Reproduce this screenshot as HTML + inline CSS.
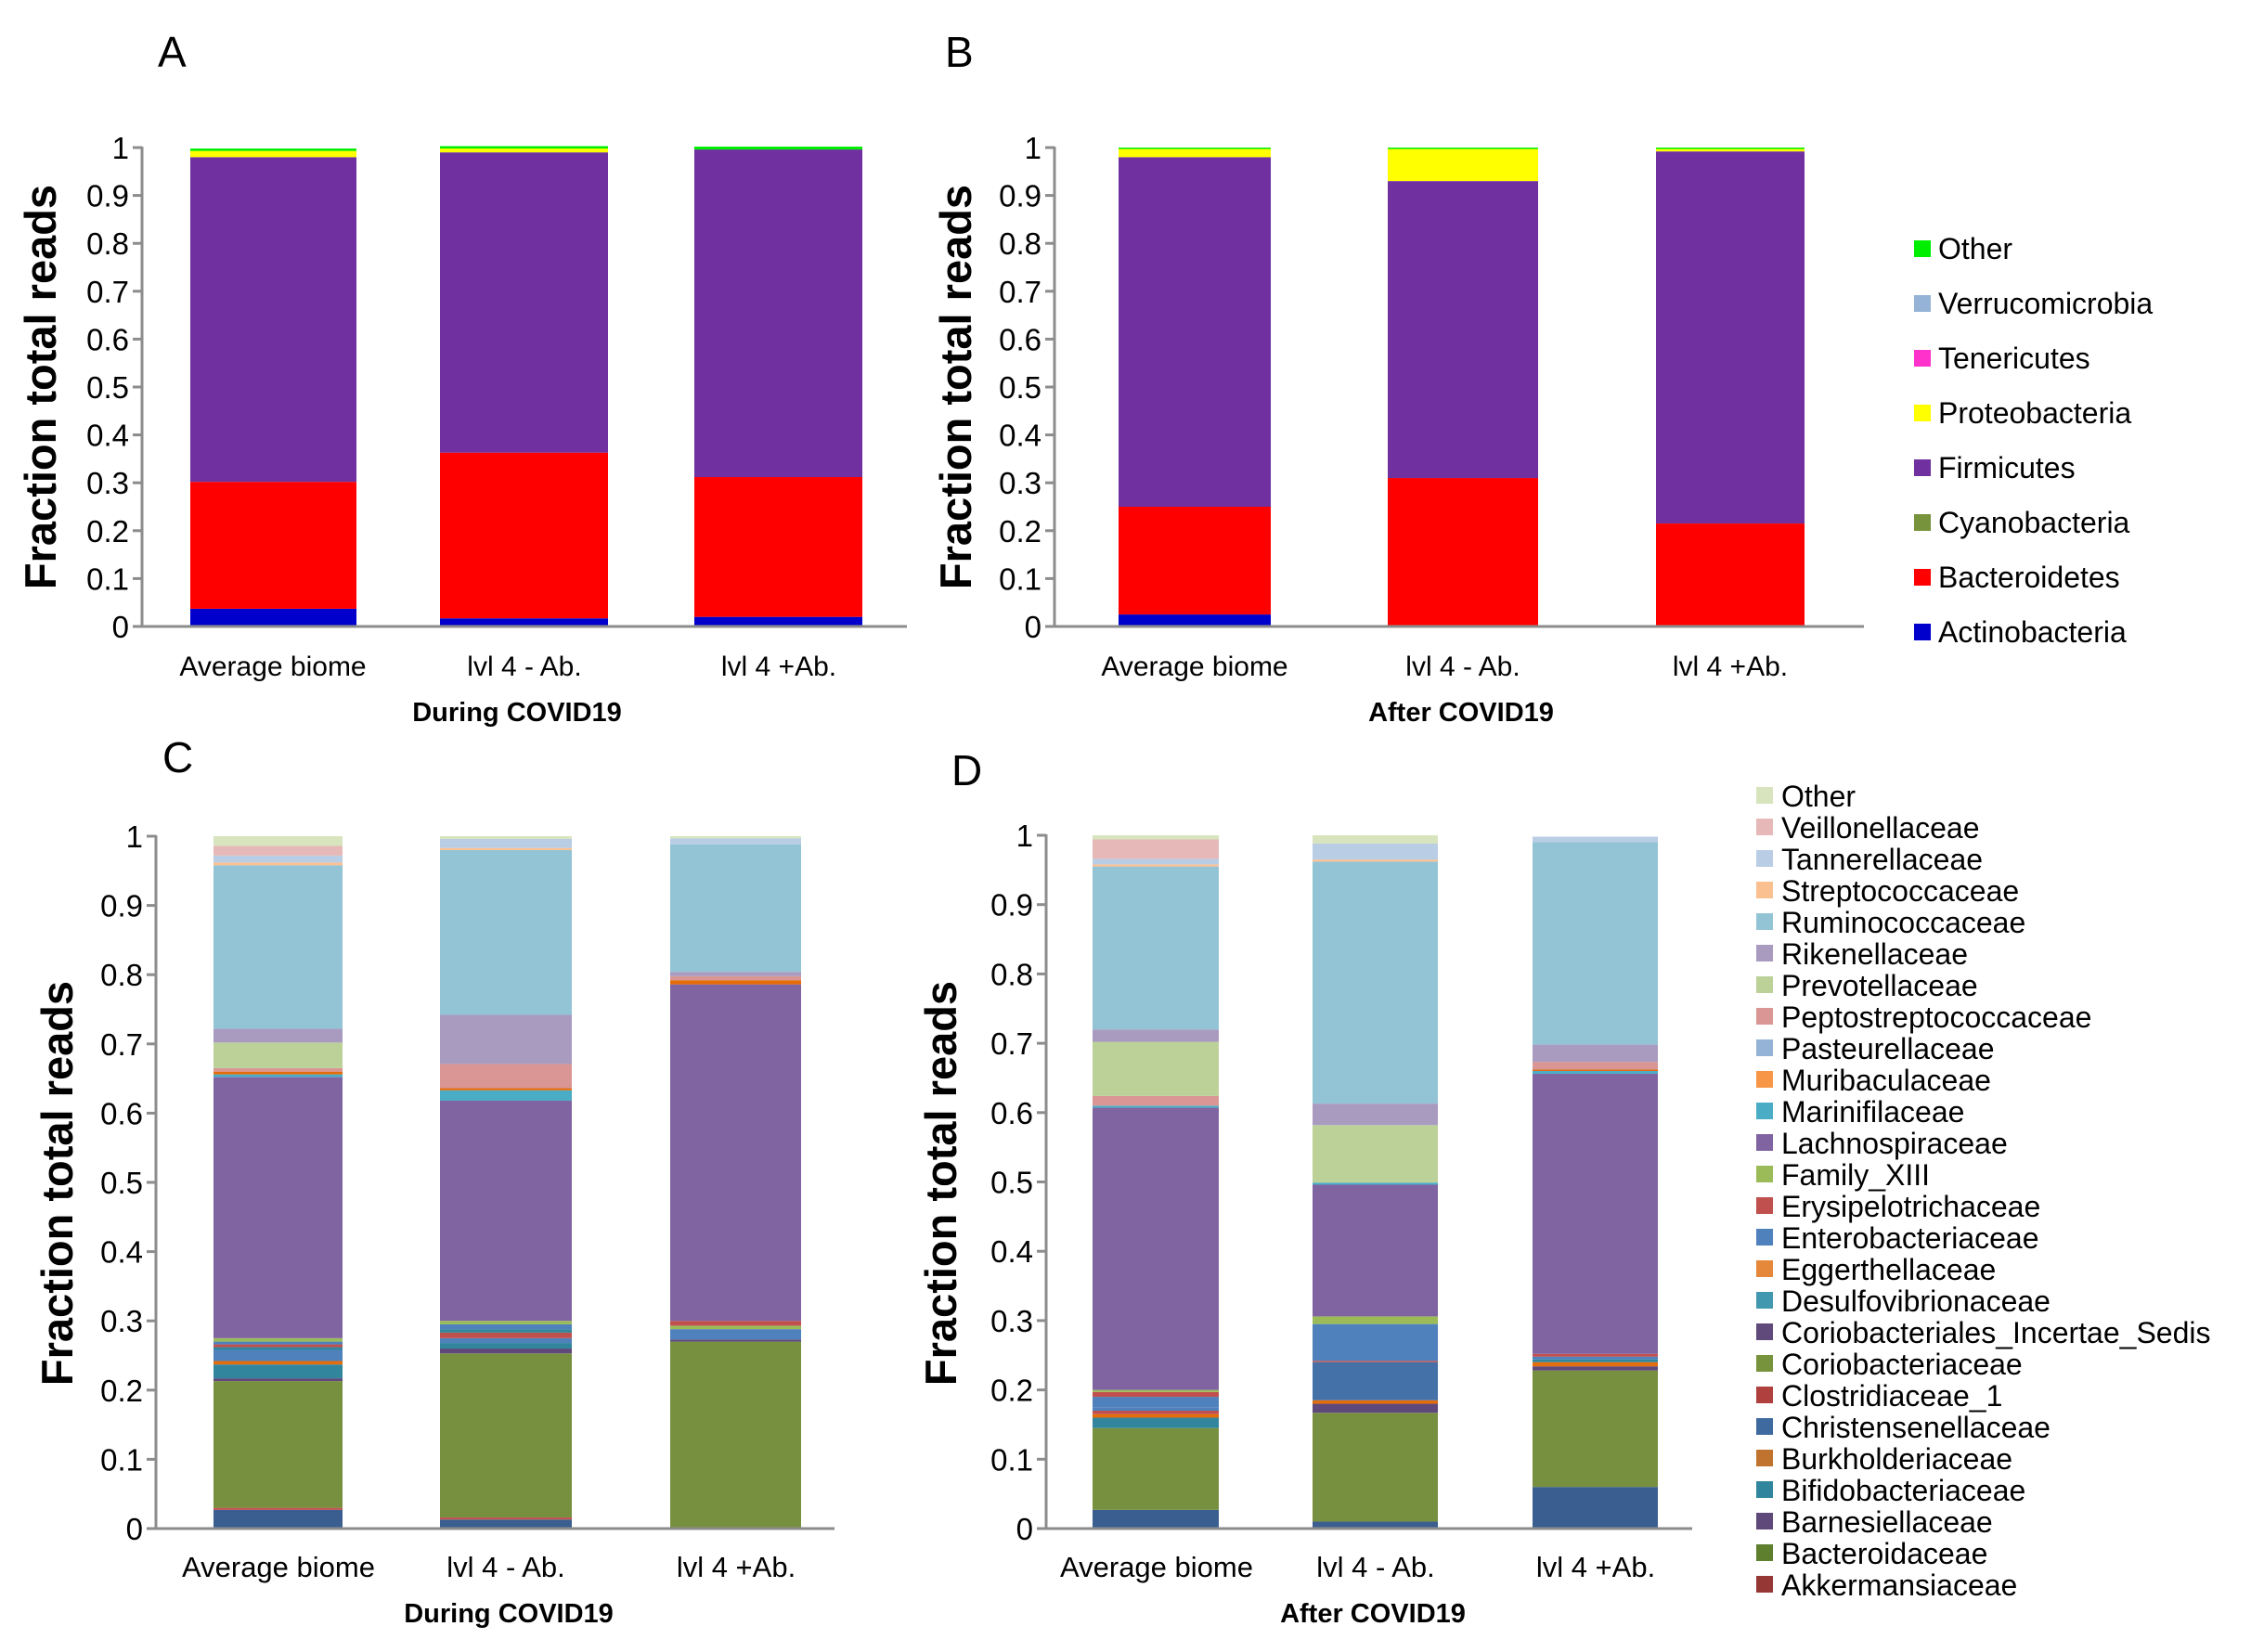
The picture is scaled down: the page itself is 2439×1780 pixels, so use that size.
<!DOCTYPE html>
<html><head><meta charset="utf-8"><style>
html,body{margin:0;padding:0;background:#fff}
svg{display:block}
text{font-family:"Liberation Sans",Arial,sans-serif;fill:#000}
</style></head><body>
<svg id="s" width="2439" height="1780" viewBox="0 0 2439 1780" xmlns="http://www.w3.org/2000/svg">
<rect width="2439" height="1780" fill="#fff"/>
<g id="bars"></g>
<g id="axes" stroke="#8c8c8c" stroke-width="3" fill="none"></g>
<text x="170" y="72" font-size="46">A</text>
<text x="1018" y="72" font-size="46">B</text>
<text x="175" y="832" font-size="46">C</text>
<text x="1025" y="846" font-size="46">D</text>
<text transform="translate(60,417) rotate(-90)" text-anchor="middle" font-size="47" font-weight="bold">Fraction total reads</text>
<text transform="translate(1046,417) rotate(-90)" text-anchor="middle" font-size="47" font-weight="bold">Fraction total reads</text>
<text transform="translate(78,1275) rotate(-90)" text-anchor="middle" font-size="47" font-weight="bold">Fraction total reads</text>
<text transform="translate(1030,1275) rotate(-90)" text-anchor="middle" font-size="47" font-weight="bold">Fraction total reads</text>
<g id="ticks" font-size="33" text-anchor="end"></g>
<g font-size="30" text-anchor="middle">
<text x="294" y="728">Average biome</text><text x="565" y="728">lvl 4  - Ab.</text><text x="839" y="728">lvl 4 +Ab.</text>
<text x="1287" y="728">Average biome</text><text x="1576" y="728">lvl 4  - Ab.</text><text x="1864" y="728">lvl 4 +Ab.</text>
</g>
<g font-size="31" text-anchor="middle">
<text x="300" y="1699">Average biome</text><text x="545" y="1699">lvl 4  - Ab.</text><text x="793" y="1699">lvl 4 +Ab.</text>
<text x="1246" y="1699">Average biome</text><text x="1482" y="1699">lvl 4  - Ab.</text><text x="1719" y="1699">lvl 4 +Ab.</text>
</g>
<g font-size="29" font-weight="bold" text-anchor="middle">
<text x="557" y="777">During COVID19</text>
<text x="1574" y="777">After COVID19</text>
<text x="548" y="1748">During COVID19</text>
<text x="1479" y="1748">After COVID19</text>
</g>
<g font-size="32">
<rect x="2062" y="259" width="18" height="18" fill="#00ee00"/><text x="2088" y="279">Other</text>
<rect x="2062" y="318" width="18" height="18" fill="#95B3D7"/><text x="2088" y="338">Verrucomicrobia</text>
<rect x="2062" y="377" width="18" height="18" fill="#FF33CC"/><text x="2088" y="397">Tenericutes</text>
<rect x="2062" y="436" width="18" height="18" fill="#FFFF00"/><text x="2088" y="456">Proteobacteria</text>
<rect x="2062" y="495" width="18" height="18" fill="#7030A0"/><text x="2088" y="515">Firmicutes</text>
<rect x="2062" y="554" width="18" height="18" fill="#77933C"/><text x="2088" y="574">Cyanobacteria</text>
<rect x="2062" y="613" width="18" height="18" fill="#FF0000"/><text x="2088" y="633">Bacteroidetes</text>
<rect x="2062" y="672" width="18" height="18" fill="#0000CC"/><text x="2088" y="692">Actinobacteria</text>
</g>
<g font-size="32">
<rect x="1892" y="848" width="18" height="18" fill="#D7E4BD"/><text x="1919" y="869">Other</text>
<rect x="1892" y="882" width="18" height="18" fill="#E6B9B8"/><text x="1919" y="903">Veillonellaceae</text>
<rect x="1892" y="916" width="18" height="18" fill="#B9CDE5"/><text x="1919" y="937">Tannerellaceae</text>
<rect x="1892" y="950" width="18" height="18" fill="#FAC090"/><text x="1919" y="971">Streptococcaceae</text>
<rect x="1892" y="984" width="18" height="18" fill="#93C4D6"/><text x="1919" y="1005">Ruminococcaceae</text>
<rect x="1892" y="1018" width="18" height="18" fill="#A99BC0"/><text x="1919" y="1039">Rikenellaceae</text>
<rect x="1892" y="1052" width="18" height="18" fill="#BBD198"/><text x="1919" y="1073">Prevotellaceae</text>
<rect x="1892" y="1086" width="18" height="18" fill="#D99694"/><text x="1919" y="1107">Peptostreptococcaceae</text>
<rect x="1892" y="1120" width="18" height="18" fill="#95B3D7"/><text x="1919" y="1141">Pasteurellaceae</text>
<rect x="1892" y="1154" width="18" height="18" fill="#F79646"/><text x="1919" y="1175">Muribaculaceae</text>
<rect x="1892" y="1188" width="18" height="18" fill="#4BACC6"/><text x="1919" y="1209">Marinifilaceae</text>
<rect x="1892" y="1222" width="18" height="18" fill="#8064A2"/><text x="1919" y="1243">Lachnospiraceae</text>
<rect x="1892" y="1256" width="18" height="18" fill="#9BBB59"/><text x="1919" y="1277">Family_XIII</text>
<rect x="1892" y="1290" width="18" height="18" fill="#C0504D"/><text x="1919" y="1311">Erysipelotrichaceae</text>
<rect x="1892" y="1324" width="18" height="18" fill="#4F81BD"/><text x="1919" y="1345">Enterobacteriaceae</text>
<rect x="1892" y="1358" width="18" height="18" fill="#E5883A"/><text x="1919" y="1379">Eggerthellaceae</text>
<rect x="1892" y="1392" width="18" height="18" fill="#4198AF"/><text x="1919" y="1413">Desulfovibrionaceae</text>
<rect x="1892" y="1426" width="18" height="18" fill="#604A7B"/><text x="1919" y="1447">Coriobacteriales_Incertae_Sedis</text>
<rect x="1892" y="1460" width="18" height="18" fill="#77933C"/><text x="1919" y="1481">Coriobacteriaceae</text>
<rect x="1892" y="1494" width="18" height="18" fill="#B0403D"/><text x="1919" y="1515">Clostridiaceae_1</text>
<rect x="1892" y="1528" width="18" height="18" fill="#3E6AA0"/><text x="1919" y="1549">Christensenellaceae</text>
<rect x="1892" y="1562" width="18" height="18" fill="#C0732E"/><text x="1919" y="1583">Burkholderiaceae</text>
<rect x="1892" y="1596" width="18" height="18" fill="#31859C"/><text x="1919" y="1617">Bifidobacteriaceae</text>
<rect x="1892" y="1630" width="18" height="18" fill="#5F497A"/><text x="1919" y="1651">Barnesiellaceae</text>
<rect x="1892" y="1664" width="18" height="18" fill="#5E7F2E"/><text x="1919" y="1685">Bacteroidaceae</text>
<rect x="1892" y="1698" width="18" height="18" fill="#953735"/><text x="1919" y="1719">Akkermansiaceae</text>
</g>
</svg>
<script>
var NS="http://www.w3.org/2000/svg";
function el(p,t,a,txt){var e=document.createElementNS(NS,t);for(var k in a)e.setAttribute(k,a[k]);if(txt)e.textContent=txt;document.getElementById(p).appendChild(e);return e;}
var P={A:[153,977,675,159],B:[1136,2008,675,159],C:[168,899,1647,901],D:[1127,1823,1647,900]};
var labs=["0","0.1","0.2","0.3","0.4","0.5","0.6","0.7","0.8","0.9","1"];
for(var k in P){var p=P[k];
 el("axes","line",{x1:p[0],y1:p[3]-1,x2:p[0],y2:p[2]});
 el("axes","line",{x1:p[0],y1:p[2],x2:p[1],y2:p[2]});
 for(var i=0;i<=10;i++){var y=p[2]+(p[3]-p[2])*i/10;
  el("axes","line",{x1:p[0]-10,y1:y,x2:p[0],y2:y});
  el("ticks","text",{x:p[0]-14,y:y+12},labs[i]);}
}
function bar(pk,x0,x1,segs){var p=P[pk];var prev=0;
 segs.forEach(function(s){var a=p[2]+(p[3]-p[2])*prev,b=p[2]+(p[3]-p[2])*s[0];
  el("bars","rect",{x:x0,y:b,width:x1-x0,height:Math.max(a-b,0.5),fill:s[1]});prev=s[0];});}
var Ac="#0000CC",Bc="#FF0000",Fi="#7030A0",Pr="#FFFF00",Ot="#00EE00";
bar("A",205,384,[[0.037,Ac],[0.302,Bc],[0.98,Fi],[0.993,Pr],[0.998,Ot]]);
bar("A",474,655,[[0.017,Ac],[0.363,Bc],[0.99,Fi],[0.998,Pr],[1.003,Ot]]);
bar("A",748,929,[[0.02,Ac],[0.312,Bc],[0.996,Fi],[1.002,Ot]]);
bar("B",1205,1369,[[0.025,Ac],[0.25,Bc],[0.98,Fi],[0.997,Pr],[1.0,Ot]]);
bar("B",1495,1657,[[0.31,Bc],[0.93,Fi],[0.997,Pr],[1.0,Ot]]);
bar("B",1784,1944,[[0.215,Bc],[0.992,Fi],[0.997,Pr],[1.0,Ot]]);
var CH="#3B5E91",BD="#77903F",BA="#5F497A",BI="#31859C",OR="#E46C0A",EN="#4F81BD",RD="#C0504D",FX="#9BBB59",LA="#8064A2",MA="#4BACC6",PE="#D99694",PV="#BBD198",RI="#A99BC0",RU="#93C4D6",ST="#FAC090",TA="#B9CDE5",VE="#E6B9B8",OT="#D7E4BD";
bar("C",230,369,[[0.027,CH],[0.03,RD],[0.213,BD],[0.217,BA],[0.237,BI],[0.242,OR],[0.258,EN],[0.262,BI],[0.266,RD],[0.27,EN],[0.275,FX],[0.652,LA],[0.656,MA],[0.66,OR],[0.665,PE],[0.702,PV],[0.722,RI],[0.958,RU],[0.962,ST],[0.972,TA],[0.986,VE],[1,OT]]);
bar("C",474,616,[[0.013,CH],[0.016,RD],[0.253,BD],[0.26,BA],[0.268,BI],[0.275,EN],[0.283,RD],[0.288,BI],[0.295,EN],[0.3,FX],[0.618,LA],[0.633,MA],[0.636,OR],[0.671,PE],[0.742,RI],[0.98,RU],[0.983,ST],[0.996,TA],[1,OT]]);
bar("C",722,863,[[0.27,BD],[0.273,BA],[0.288,EN],[0.293,FX],[0.3,RD],[0.786,LA],[0.792,OR],[0.798,PE],[0.804,RI],[0.988,RU],[0.997,TA],[1,OT]]);
bar("D",1177,1313,[[0.027,CH],[0.145,BD],[0.16,BI],[0.165,OR],[0.17,RD],[0.175,EN],[0.19,EN],[0.197,RD],[0.2,FX],[0.607,LA],[0.61,MA],[0.624,PE],[0.702,PV],[0.72,RI],[0.955,RU],[0.958,ST],[0.966,TA],[0.994,VE],[1,OT]]);
bar("D",1414,1549,[[0.01,CH],[0.167,BD],[0.18,BA],[0.185,OR],[0.24,"#4472A8"],[0.242,RD],[0.295,EN],[0.306,FX],[0.496,LA],[0.499,MA],[0.582,PV],[0.613,RI],[0.962,RU],[0.965,ST],[0.988,TA],[1,OT]]);
bar("D",1651,1786,[[0.06,CH],[0.228,BD],[0.234,BA],[0.24,OR],[0.244,BI],[0.248,EN],[0.252,RD],[0.656,LA],[0.66,MA],[0.662,OR],[0.673,PE],[0.698,RI],[0.99,RU],[0.998,TA]]);
</script>
</body></html>
